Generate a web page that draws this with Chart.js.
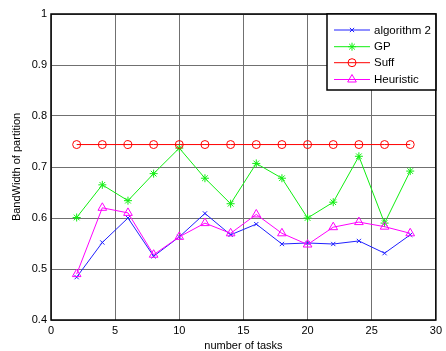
<!DOCTYPE html>
<html>
<head>
<meta charset="utf-8">
<script src="https://cdn.jsdelivr.net/npm/chart.js@4/dist/chart.umd.min.js"></script>
<style>
html,body{margin:0;padding:0;background:#fff;}
#wrap{width:446px;height:351px;position:relative;}
</style>
</head>
<body>
<div id="wrap"><canvas id="c" width="446" height="351"></canvas></div>
<script>
const tasks = [2,4,6,8,10,12,14,16,18,20,22,24,26,28];
const algorithm2 = [0.484,0.552,0.600,0.525,0.563,0.609,0.567,0.588,0.549,0.551,0.549,0.555,0.531,0.567];
const gp = [0.601,0.665,0.634,0.687,0.737,0.678,0.628,0.707,0.678,0.600,0.631,0.721,0.590,0.692];
const suff = [0.744,0.744,0.744,0.744,0.744,0.744,0.744,0.744,0.744,0.744,0.744,0.744,0.744,0.744];
const heuristic = [0.490,0.620,0.610,0.528,0.563,0.590,0.570,0.607,0.570,0.548,0.582,0.592,0.583,0.570];
const seriesNames = ['algorithm 2','GP','Suff','Heuristic'];
const xTitle = 'number of tasks';
const yTitle = 'BandWidth of partition';

const FONT = 'Liberation Sans, Arial, sans-serif';
const toXY = arr => arr.map((v,i)=>({x:tasks[i],y:v}));

function ds(label, data, color, style, radius, order){
  return {label, data: toXY(data), borderColor: color, backgroundColor: 'rgba(0,0,0,0)',
    pointBorderColor: color, pointBackgroundColor: 'rgba(0,0,0,0)', borderWidth: 1,
    pointStyle: style, pointRadius: radius, pointBorderWidth: 1, tension: 0, order};
}

const legendPlugin = {
  id: 'matlabLegend',
  afterDraw(chart){
    const ctx = chart.ctx;
    const a = chart.chartArea;
    ctx.save();
    // axes box
    ctx.strokeStyle = '#000';
    ctx.lineWidth = 1.5;
    ctx.strokeRect(a.left, a.top, a.right - a.left, a.bottom - a.top);
    // legend box
    const bx = 327, by = a.top, bw = a.right - 327, bh = 90 - a.top;
    ctx.fillStyle = '#fff';
    ctx.fillRect(bx, by, bw, bh);
    ctx.lineWidth = 1.5;
    ctx.strokeRect(bx, by, bw, bh);
    const rows = [30, 46.7, 62.7, 79.5];
    chart.data.datasets.forEach((d, i) => {
      const y = rows[i];
      ctx.strokeStyle = d.borderColor;
      ctx.lineWidth = 1;
      ctx.beginPath(); ctx.moveTo(334, y); ctx.lineTo(370, y); ctx.stroke();
      ctx.fillStyle = 'rgba(0,0,0,0)';
      ctx.strokeStyle = d.borderColor;
      ctx.lineWidth = 1;
      Chart.helpers.drawPoint(ctx, {pointStyle: d.pointStyle, radius: d.pointRadius, borderWidth: 1, rotation: 0}, 352, y);
      ctx.fillStyle = '#000';
      ctx.font = '11.5px ' + FONT;
      ctx.textBaseline = 'middle';
      ctx.textAlign = 'left';
      ctx.fillText(d.label, 374, y + 0.5);
    });
    ctx.restore();
  }
};

new Chart(document.getElementById('c'), {
  type: 'line',
  data: {
    datasets: [
      ds(seriesNames[0], algorithm2, '#2020ff', 'crossRot', 3, 4),
      ds(seriesNames[1], gp, '#10ee10', 'star', 4, 3),
      ds(seriesNames[2], suff, '#ff0000', 'circle', 4, 2),
      ds(seriesNames[3], heuristic, '#ff00ff', 'triangle', 5, 1)
    ]
  },
  options: {
    responsive: false,
    animation: false,
    events: [],
    layout: {padding: {left: 0, right: 8, top: 14, bottom: 0}},
    plugins: {legend: {display: false}, tooltip: {enabled: false}},
    scales: {
      x: {
        type: 'linear', min: 0, max: 30,
        ticks: {stepSize: 5, color: '#000', font: {family: FONT, size: 11}, padding: 4, maxRotation: 0},
        grid: {color: '#707070', lineWidth: 1, drawTicks: false},
        border: {display: false},
        title: {display: true, text: xTitle, color: '#000', font: {family: FONT, size: 11, lineHeight: 1}, padding: {top: 0, bottom: 0}},
        afterFit(s){ s.height = 31; }
      },
      y: {
        min: 0.4, max: 1,
        ticks: {stepSize: 0.1, color: '#000', font: {family: FONT, size: 11}, padding: 4,
          callback: v => String(Number(v.toFixed(1)))},
        grid: {color: '#707070', lineWidth: 1, drawTicks: false},
        border: {display: false},
        title: {display: true, text: yTitle, color: '#000', font: {family: FONT, size: 11, lineHeight: 1}, padding: {top: 11.5, bottom: 0}},
        afterFit(s){ s.width = 51; }
      }
    }
  },
  plugins: [legendPlugin]
});
</script>
</body>
</html>
